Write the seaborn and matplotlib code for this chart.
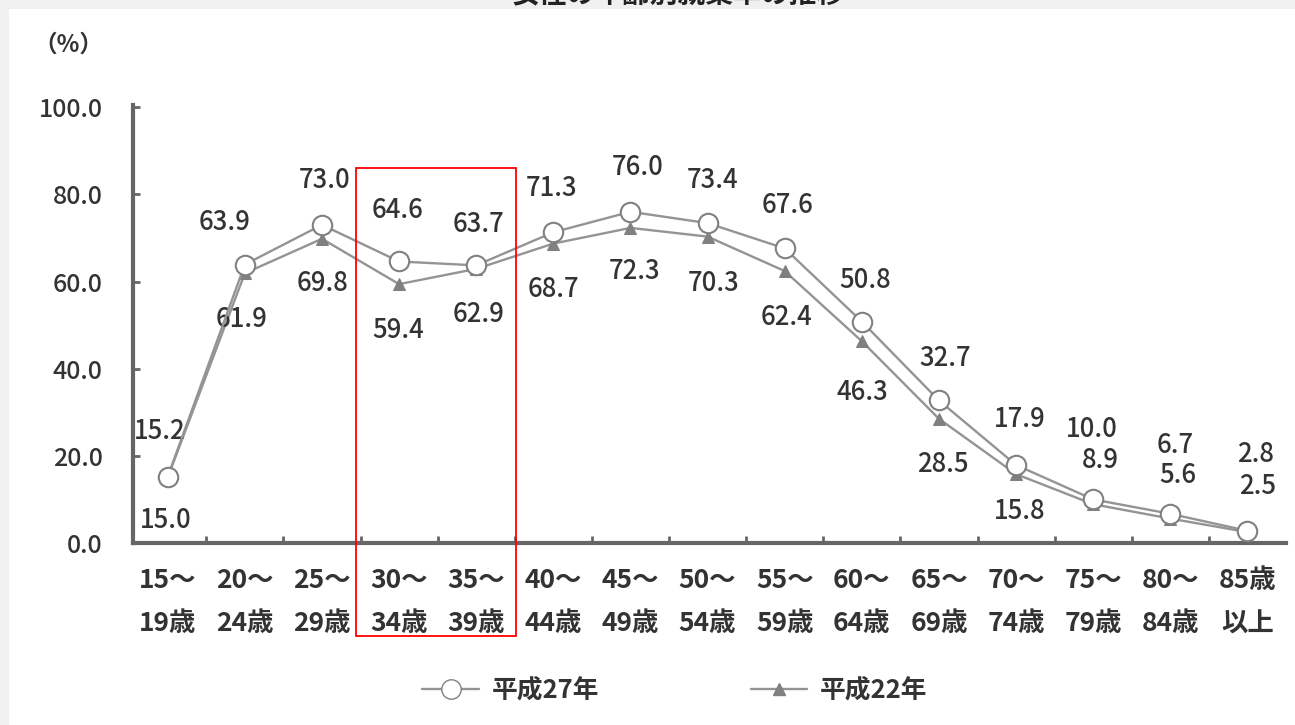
import matplotlib
matplotlib.use("Agg")
import matplotlib.pyplot as plt
from matplotlib.patches import Rectangle
from matplotlib.lines import Line2D
import seaborn as sns
import numpy as np

# ─────────────────────────────────────────
# DATA
# ─────────────────────────────────────────
AGE_GROUPS = ["15～\n19歳", "20～\n24歳", "25～\n29歳", "30～\n34歳", "35～\n39歳",
              "40～\n44歳", "45～\n49歳", "50～\n54歳", "55～\n59歳", "60～\n64歳",
              "65～\n69歳", "70～\n74歳", "75～\n79歳", "80～\n84歳", "85歳\n以上"]
H27 = [15.2, 63.9, 73.0, 64.6, 63.7, 71.3, 76.0, 73.4, 67.6, 50.8, 32.7, 17.9, 10.0, 6.7, 2.8]
H22 = [15.0, 61.9, 69.8, 59.4, 62.9, 68.7, 72.3, 70.3, 62.4, 46.3, 28.5, 15.8, 8.9, 5.6, 2.5]
Y_TICKS = [0, 20, 40, 60, 80, 100]
HIGHLIGHT = [3, 4]   # 30～34歳, 35～39歳

# label offsets (pixels) from each point
H27_OFF = [(-8, 45), (-20, 42), (3, 44), (-2, 51), (2, 41), (-2, 44), (7, 44), (5, 43),
           (3, 43), (3, 41), (6, 42), (4, 45), (-1, 70), (5, 68), (8, 76)]
H22_OFF = [(-2, -43), (-3, -46), (1, -45), (-1, -46), (2, -46), (0, -46), (4, -44), (6, -47),
           (2, -46), (1, -51), (4, -46), (4, -37), (7, 44), (8, 43), (10, 46)]

# ─────────────────────────────────────────
# PLOT
# ─────────────────────────────────────────
sns.set_style("white")
plt.rcParams["font.family"] = ["Noto Sans CJK JP", "DejaVu Sans"]

W, H = 1295, 725
fig = plt.figure(figsize=(W / 100, H / 100), dpi=100)
fig.patch.set_facecolor("#f0f0f0")
bg = Rectangle((9 / W, 0), 1, 1 - 9 / H, transform=fig.transFigure,
               facecolor="white", edgecolor="none", zorder=-10)
fig.add_artist(bg)

ax = fig.add_axes([133 / W, (H - 543) / H, (1286 - 133) / W, (543 - 105) / H])
ax.set_facecolor("none")

x = np.arange(len(AGE_GROUPS))
line_col = "#949494"
mark_col = "#808080"
text_col = "#333333"

sns.lineplot(x=x, y=H22, ax=ax, color=line_col, linewidth=1.7, marker="^",
             markersize=8, markerfacecolor=mark_col, markeredgecolor=mark_col, zorder=3)
sns.lineplot(x=x, y=H27, ax=ax, color=line_col, linewidth=1.7, marker="o",
             markersize=14, markerfacecolor="white", markeredgecolor=mark_col,
             markeredgewidth=1.5, zorder=4)

for xi, v, off in zip(x, H27, H27_OFF):
    ax.annotate(f"{v:.1f}", (xi, v), xytext=off, textcoords="offset pixels",
                ha="center", va="center", fontsize=18.5, color=text_col, fontweight="medium")
for xi, v, off in zip(x, H22, H22_OFF):
    ax.annotate(f"{v:.1f}", (xi, v), xytext=off, textcoords="offset pixels",
                ha="center", va="center", fontsize=18.5, color=text_col, fontweight="medium")

ax.set_xlim(-0.45, 14.5)
ax.set_ylim(0, 100.5)

ax.set_yticks(Y_TICKS)
ax.set_yticklabels([f"{t:.1f}" for t in Y_TICKS], fontsize=18, color=text_col,
                   fontweight="medium")
ax.tick_params(axis="y", direction="in", length=5, width=2, color="#666666", pad=22, left=True)

ax.set_xticks(x)
ax.set_xticklabels(AGE_GROUPS, fontsize=19, color=text_col, linespacing=1.8,
                   fontweight="bold")
ax.tick_params(axis="x", length=0, pad=17)
ax.set_xticks(x[:-1] + 0.5, minor=True)
ax.tick_params(axis="x", which="minor", direction="in", length=5, width=2,
               color="#666666", bottom=True)

for side in ["top", "right"]:
    ax.spines[side].set_visible(False)
for side in ["left", "bottom"]:
    ax.spines[side].set_color("#666666")
    ax.spines[side].set_linewidth(3)

# red highlight box around 30～39
x0 = HIGHLIGHT[0] - 0.56
x1 = HIGHLIGHT[-1] + 0.52
ax.add_patch(Rectangle((x0, -21.3), x1 - x0, 107.3, fill=False, edgecolor="red",
                       linewidth=1.3, clip_on=False, zorder=5))

# unit label and clipped title
fig.text(68 / W, 1 - 45 / H, "（%）", ha="center", va="center", fontsize=17,
         color=text_col, fontweight="bold")
fig.text(678 / W, 1 - 8 / H, "女性の年齢別就業率の推移", ha="center", va="bottom",
         fontsize=20, color="#222222", fontweight="bold")

# legend
handles = [
    Line2D([], [], color=line_col, linewidth=1.7, marker="o", markersize=14,
           markerfacecolor="white", markeredgecolor=mark_col),
    Line2D([], [], color=line_col, linewidth=1.7, marker="^", markersize=8,
           markerfacecolor=mark_col, markeredgecolor=mark_col),
]
fig.legend(handles, ["平成27年", "平成22年"], loc="center", ncol=2, frameon=False,
           bbox_to_anchor=(675 / W, 1 - 690 / H), handlelength=2.2, handletextpad=0.5,
           columnspacing=5.9, labelcolor=text_col, prop={"size": 18.5, "weight": "bold"})

plt.savefig("out.png", dpi=100, facecolor=fig.get_facecolor())
